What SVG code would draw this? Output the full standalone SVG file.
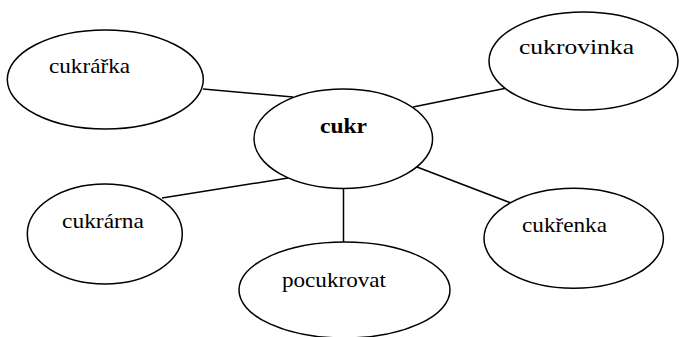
<svg xmlns="http://www.w3.org/2000/svg" width="679" height="337" viewBox="0 0 679 337">
<style>
.n{fill:#fff;stroke:#000;stroke-width:1.5}
.c{stroke:#000;stroke-width:1.5;fill:none}
text{font-family:"Liberation Serif",serif;font-size:21px;fill:#000}
.b{font-weight:bold}
</style>
<rect width="679" height="337" fill="#fff"/>
<g id="connectors">
<line class="c" x1="203" y1="89" x2="293" y2="97"/>
<line class="c" x1="413" y1="107" x2="507" y2="88"/>
<line class="c" x1="288" y1="178" x2="162" y2="198"/>
<line class="c" x1="417" y1="167" x2="511" y2="203"/>
<line class="c" x1="343.5" y1="188" x2="343.5" y2="242"/>
</g>
<g id="cukr">
<ellipse class="n" cx="343.3" cy="138.7" rx="89.3" ry="49.7"/>
<text class="b" x="320" y="133" textLength="47" lengthAdjust="spacingAndGlyphs">cukr</text>
</g>
<g id="cukrarka">
<ellipse class="n" cx="105.3" cy="79.5" rx="98" ry="49.5"/>
<text x="49" y="73" textLength="81" lengthAdjust="spacingAndGlyphs">cukrářka</text>
</g>
<g id="cukrovinka">
<ellipse class="n" cx="583.5" cy="61" rx="94.5" ry="49"/>
<text x="519" y="54" textLength="115" lengthAdjust="spacingAndGlyphs">cukrovinka</text>
</g>
<g id="cukrarna">
<ellipse class="n" cx="104.8" cy="234" rx="77.5" ry="50"/>
<text x="62" y="228" textLength="82" lengthAdjust="spacingAndGlyphs">cukrárna</text>
</g>
<g id="cukrenka">
<ellipse class="n" cx="573.7" cy="238.3" rx="89.7" ry="50"/>
<text x="522" y="232" textLength="85" lengthAdjust="spacingAndGlyphs">cukřenka</text>
</g>
<g id="pocukrovat">
<ellipse class="n" cx="344.5" cy="290" rx="105.5" ry="48"/>
<text x="282" y="287" textLength="104" lengthAdjust="spacingAndGlyphs">pocukrovat</text>
</g>
</svg>
